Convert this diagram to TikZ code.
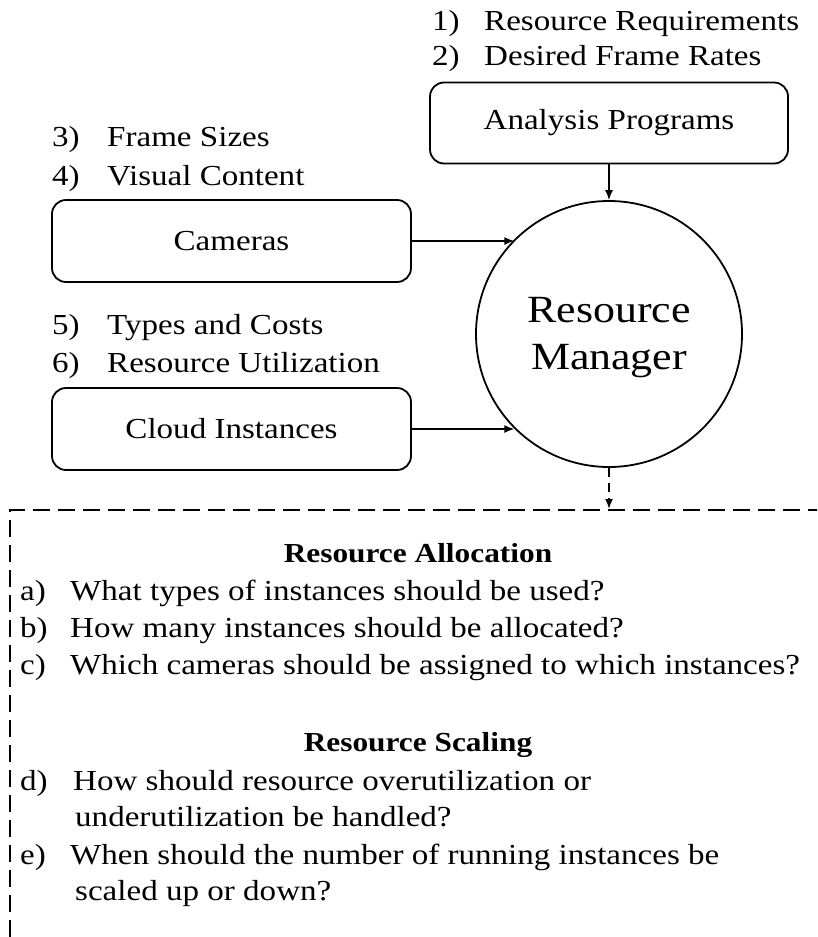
\documentclass[tikz,border=0pt]{standalone}
\usepackage{fontspec}
\setmainfont{Liberation Serif}[FakeStretch=1.14]
\usetikzlibrary{arrows.meta}
\begin{document}
\begin{tikzpicture}[x=1pt,y=-1pt,
  lbl/.style={anchor=base west, inner sep=0pt, font=\fontsize{29}{32}\selectfont},
  qtxt/.style={anchor=base west, inner sep=0pt, font=\fontsize{29}{32}\selectfont},
  qhead/.style={anchor=base, inner sep=0pt, font=\fontsize{27.5}{32}\selectfont\bfseries},
  blk/.style={draw, line width=1.8pt, rounded corners=14pt, inner sep=0pt,
    font=\fontsize{29}{32}\selectfont},
  hub/.style={draw, circle, line width=1.8pt, inner sep=0pt, minimum size=266pt},
  hubtext/.style={align=center, inner sep=0pt, yshift=-3.5pt,
    font=\fontsize{38.5}{47}\selectfont},
  arr/.style={line width=1.5pt, -{Latex[length=10pt,width=8pt]}},
  darr/.style={line width=1.8pt, dash pattern=on 9pt off 6pt, -{Latex[length=10pt,width=8pt]}},
]
\clip (0,0) rectangle (817,937);

% inputs of the manager
\node[blk, minimum width=358pt, minimum height=81pt] (ap) at (609,123) {Analysis Programs};
\node[blk, minimum width=359pt, minimum height=82pt] (cam) at (231.5,241) {Cameras};
\node[blk, minimum width=359pt, minimum height=82pt] (cld) at (231.5,429) {Cloud Instances};
\node[hub, label={[name=rmtext, hubtext]center:Resource\\Manager}] (rm) at (609,334) {};

% item lists above the boxes
\node[lbl] (n1) at (432,30) {1)};
\node[lbl] (t1) at (484,30) {Resource Requirements};
\node[lbl] (n2) at (432,65) {2)};
\node[lbl] (t2) at (484,65) {Desired Frame Rates};
\node[lbl] (n3) at (52,146) {3)};
\node[lbl] (t3) at (107,146) {Frame Sizes};
\node[lbl] (n4) at (52,185) {4)};
\node[lbl] (t4) at (107,185) {Visual Content};
\node[lbl] (n5) at (52,334) {5)};
\node[lbl] (t5) at (107,334) {Types and Costs};
\node[lbl] (n6) at (52,372) {6)};
\node[lbl] (t6) at (107,372) {Resource Utilization};

% connectors into the manager
\draw[arr] (ap.south) -- (rm.north);
\draw[arr] (cam.east) -- (cam.east -| rm.135);
\draw[arr] (cld.east) -- (cld.east -| rm.225);

% question panel
\node[draw, line width=2pt, dash pattern=on 17pt off 8pt, anchor=north west,
  minimum width=840pt, minimum height=460pt, inner sep=0pt] (qb) at (9,509) {};
\draw[darr] (rm.south) -- (rm.south |- qb.north);

\node[qhead] (h1) at (418,562) {Resource Allocation};
\node[qtxt] (qa) at (20,600) {a)};
\node[qtxt] (qat) at (70,600) {What types of instances should be used?};
\node[qtxt] (qbl) at (20,637) {b)};
\node[qtxt] (qbt) at (70,637) {How many instances should be allocated?};
\node[qtxt] (qc) at (20,674) {c)};
\node[qtxt] (qct) at (70,674) {Which cameras should be assigned to which instances?};
\node[qhead] (h2) at (418,751) {Resource Scaling};
\node[qtxt] (qd) at (20,790) {d)};
\node[qtxt] (qdt) at (73,790) {How should resource overutilization or};
\node[qtxt] (qdt2) at (75,826) {underutilization be handled?};
\node[qtxt] (qe) at (20,864) {e)};
\node[qtxt] (qet) at (70,864) {When should the number of running instances be};
\node[qtxt] (qet2) at (75,900) {scaled up or down?};
\end{tikzpicture}
\end{document}
